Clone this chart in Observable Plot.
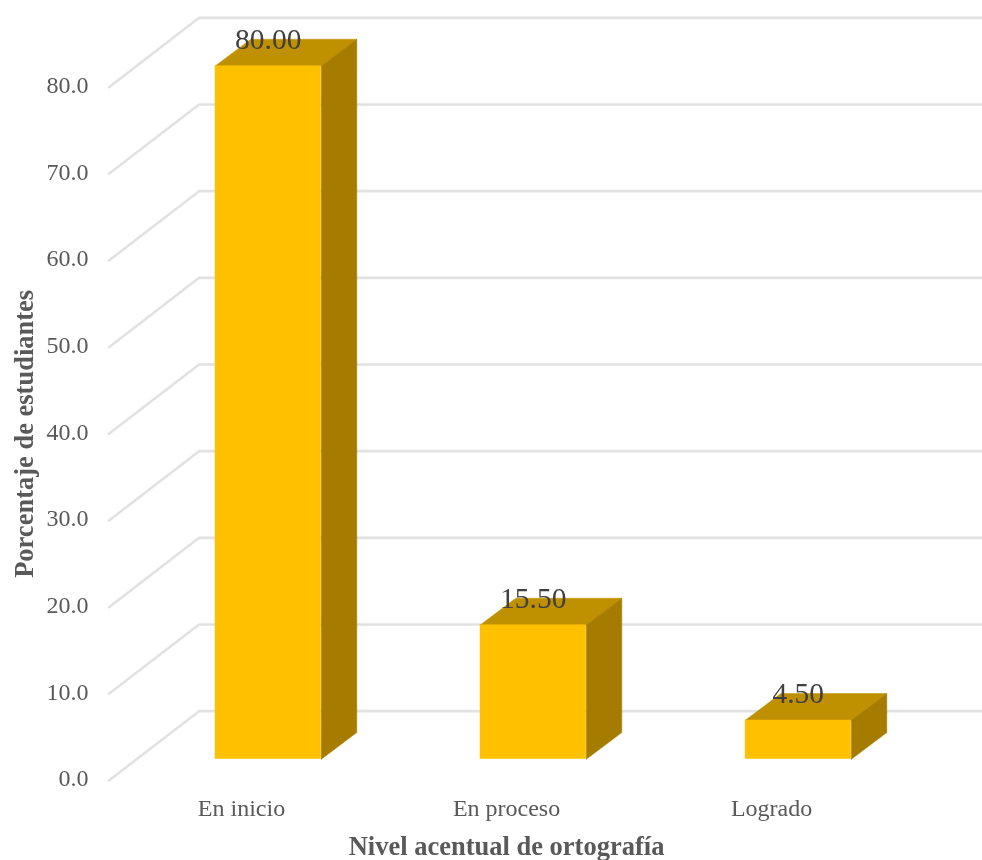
<!DOCTYPE html>
<html>
<head>
<meta charset="utf-8">
<script src="https://cdn.jsdelivr.net/npm/d3@7"></script>
<script src="https://cdn.jsdelivr.net/npm/@observablehq/plot@0.6"></script>
<style>
html,body{margin:0;padding:0;background:#fff}
svg{display:block;filter:blur(0.4px)}
</style>
</head>
<body>
<div id="chart"></div>
<script>
const categories = ["En inicio", "En proceso", "Logrado"];
const values = [80.0, 15.5, 4.5];
const yTicks = [0, 10, 20, 30, 40, 50, 60, 70, 80];
const xTitle = "Nivel acentual de ortografía";
const yTitle = "Porcentaje de estudiantes";

// 3-D projection, in scale units
const wallDx = 0.34, wallDy = 8;      // depth of the floor and side wall
const barLeft = -0.099, barWidth = 0.4; // bar position relative to its category
const barBase = 2.45;                  // bar base, lifted off the front of the floor
const barDx = 0.134, barDy = 3.08;    // depth of each bar

const xMin = -0.5, xMax = 2.796;
const bars = categories.map((c, i) => {
  const x0 = i + barLeft, x1 = x0 + barWidth, y0 = barBase, y1 = barBase + values[i];
  return {c, i, v: values[i], x0, x1, y0, y1};
});
const poly = (fn) => bars.flatMap(b => fn(b).map(([x, y]) => ({x, y, z: b.c})));
const topFace = poly(b => [[b.x0, b.y1], [b.x1, b.y1], [b.x1 + barDx, b.y1 + barDy], [b.x0 + barDx, b.y1 + barDy], [b.x0, b.y1]]);
const sideFace = poly(b => [[b.x1, b.y0], [b.x1 + barDx, b.y0 + barDy], [b.x1 + barDx, b.y1 + barDy], [b.x1, b.y1], [b.x1, b.y0]]);
const gridPaths = yTicks.flatMap(t => [
  {x: xMin, y: t, z: t},
  {x: xMin + wallDx, y: t + wallDy, z: t},
  {x: xMax, y: t + wallDy, z: t}
]);

const chart = Plot.plot({
  width: 982,
  height: 860,
  marginLeft: 108.5,
  marginRight: 0,
  marginTop: 0,
  marginBottom: 80,
  style: {fontFamily: "'Liberation Serif', serif", background: "#fff"},
  x: {type: "linear", domain: [xMin, xMax], axis: null},
  y: {domain: [0, 90], axis: null},
  marks: [
    Plot.line(gridPaths, {x: "x", y: "y", z: "z", stroke: "#e2e2e2", strokeWidth: 2.6, curve: "linear"}),
    Plot.axisY({ticks: yTicks, tickSize: 0, tickPadding: 20.5, dy: -2, tickFormat: d => d.toFixed(1), fontSize: 24, fill: "#595959", label: null}),
    Plot.axisX({ticks: [0, 1, 2], tickSize: 0, tickPadding: 18, tickFormat: i => categories[i], fontSize: 24, fill: "#595959", label: null}),
    Plot.line(topFace, {x: "x", y: "y", z: "z", fill: "#bf9000", stroke: "#bf9000", strokeWidth: 0.5}),
    Plot.line(sideFace, {x: "x", y: "y", z: "z", fill: "#a67c00", stroke: "#a67c00", strokeWidth: 0.5}),
    Plot.rect(bars, {x1: "x0", x2: "x1", y1: "y0", y2: "y1", fill: "#ffc000", inset: 0}),
    Plot.text(bars, {x: b => b.x0 + barWidth / 2, y: b => b.y1 + barDy, text: b => b.v.toFixed(2), fontSize: 29.5, fill: "#404040"}),
    Plot.text([xTitle], {x: () => 1, frameAnchor: "bottom", dy: 74, fontSize: 26.5, fontWeight: "bold", fill: "#595959"}),
    Plot.text([yTitle], {y: () => 40, frameAnchor: "left", textAnchor: "middle", dx: -84, rotate: -90, fontSize: 26.5, fontWeight: "bold", fill: "#595959"})
  ]
});
document.getElementById("chart").appendChild(chart);
</script>
</body>
</html>
